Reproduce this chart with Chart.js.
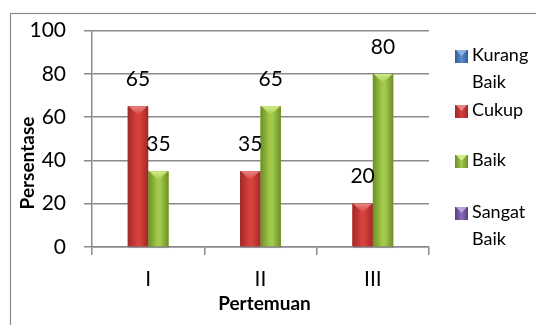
<!DOCTYPE html>
<html>
<head>
<meta charset="utf-8">
<script src="https://cdn.jsdelivr.net/npm/chart.js@4/dist/chart.umd.min.js"></script>
<style>
  html, body { margin: 0; padding: 0; background: #fff; }
  #wrap { width: 536px; height: 325px; position: relative; }
</style>
</head>
<body>
<div id="wrap"><canvas id="c" width="536" height="325"></canvas></div>
<script>
// Meetings on the x axis
const categories = ['I', 'II', 'III'];
// Series names (legend order)
const seriesNames = ['Kurang Baik', 'Cukup', 'Baik', 'Sangat Baik'];
// Percentages per meeting
const kurangBaik = [null, null, null];
const cukup = [65, 35, 20];
const baik = [35, 65, 80];
const sangatBaik = [null, null, null];
// Y axis tick values
const yTicks = [0, 20, 40, 60, 80, 100];
const xTitle = 'Pertemuan';
const yTitle = 'Persentase';

// Shading for each series: edge, middle, light cap
const shades = [
  { edge: '#2f5d93', mid: '#5b8fd0', cap: '#8fb4e3' },
  { edge: '#a02826', mid: '#d6413d', cap: '#ea8380' },
  { edge: '#6c8e26', mid: '#a3c94a', cap: '#d2ea8a' },
  { edge: '#56407a', mid: '#8a6bbf', cap: '#b9a3dc' }
];

const FONT = 'Lato, "Open Sans", sans-serif';
const GRID = '#8a8a8a';

const seriesValues = [kurangBaik, cukup, baik, sangatBaik];

const framePlugin = {
  id: 'frame',
  beforeDraw(chart) {
    const ctx = chart.ctx;
    ctx.save();
    ctx.fillStyle = '#ffffff';
    ctx.fillRect(0, 0, chart.width, chart.height);
    ctx.strokeStyle = '#8a8a8a';
    ctx.lineWidth = 1.2;
    ctx.strokeRect(10.5, 13.5, chart.width + 20, chart.height + 20);
    ctx.restore();
  }
};

// Cylinder-like shading with a bevelled top on each bar
const barShadePlugin = {
  id: 'barShade',
  afterDatasetsDraw(chart) {
    const ctx = chart.ctx;
    ctx.save();
    chart.data.datasets.forEach((ds, di) => {
      const meta = chart.getDatasetMeta(di);
      const sh = shades[di];
      meta.data.forEach((el, i) => {
        if (ds.data[i] == null) return;
        const p = el.getProps(['x', 'y', 'base', 'width'], true);
        const l = p.x - p.width / 2, r = p.x + p.width / 2;
        const top = p.y, bot = p.base;
        // soft shadow under the bar
        ctx.fillStyle = 'rgba(0,0,0,0.12)';
        ctx.fillRect(l + 1, bot, p.width, 2);
        const g = ctx.createLinearGradient(l, 0, r, 0);
        g.addColorStop(0, sh.edge);
        g.addColorStop(0.45, sh.mid);
        g.addColorStop(0.6, sh.mid);
        g.addColorStop(1, sh.edge);
        ctx.fillStyle = g;
        ctx.fillRect(l, top, p.width, bot - top);
        // bevelled top
        const capH = Math.min(9, (bot - top) / 2);
        const gc = ctx.createLinearGradient(0, top, 0, top + capH);
        gc.addColorStop(0, sh.cap);
        gc.addColorStop(1, sh.mid);
        ctx.fillStyle = gc;
        ctx.beginPath();
        ctx.moveTo(l + 1, top);
        ctx.lineTo(r - 1, top);
        ctx.lineTo(p.x, top + capH);
        ctx.closePath();
        ctx.fill();
      });
    });
    ctx.restore();
  }
};

// Value labels above the bars
const valueLabelPlugin = {
  id: 'valueLabels',
  afterDatasetsDraw(chart) {
    const ctx = chart.ctx;
    ctx.save();
    ctx.font = '21px ' + FONT;
    ctx.fillStyle = '#000';
    ctx.textAlign = 'center';
    ctx.textBaseline = 'middle';
    chart.data.datasets.forEach((ds, di) => {
      const meta = chart.getDatasetMeta(di);
      meta.data.forEach((el, i) => {
        const v = ds.data[i];
        if (v == null) return;
        const p = el.getProps(['x', 'y'], true);
        ctx.fillText(String(v), p.x, p.y - 27);
      });
    });
    ctx.restore();
  }
};

// Legend on the right, names wrapped onto two lines where needed
const legendPlugin = {
  id: 'sideLegend',
  afterDraw(chart) {
    const ctx = chart.ctx;
    const area = chart.chartArea;
    const boxX = area.right + 26;
    const textX = boxX + 17;
    const itemTops = [55, 110, 160, 212];
    const lineH = 27;
    ctx.save();
    ctx.font = '18px ' + FONT;
    ctx.textAlign = 'left';
    ctx.textBaseline = 'middle';
    seriesNames.forEach((name, i) => {
      const lines = name.split(' ');
      const y0 = itemTops[i];
      const sh = shades[i];
      const g = ctx.createLinearGradient(boxX, 0, boxX + 13, 0);
      g.addColorStop(0, sh.edge);
      g.addColorStop(0.5, sh.mid);
      g.addColorStop(1, sh.edge);
      ctx.fillStyle = g;
      ctx.fillRect(boxX, y0 - 5, 13, 13);
      ctx.fillStyle = sh.cap;
      ctx.beginPath();
      ctx.moveTo(boxX + 1, y0 - 5);
      ctx.lineTo(boxX + 12, y0 - 5);
      ctx.lineTo(boxX + 6.5, y0 + 1);
      ctx.closePath();
      ctx.fill();
      ctx.fillStyle = '#000';
      lines.forEach((t, k) => ctx.fillText(t, textX, y0 + k * lineH));
    });
    ctx.restore();
  }
};

// Axis titles
const axisTitlePlugin = {
  id: 'axisTitles',
  afterDraw(chart) {
    const ctx = chart.ctx;
    const area = chart.chartArea;
    ctx.save();
    ctx.font = 'bold 19px ' + FONT;
    ctx.fillStyle = '#000';
    ctx.textAlign = 'center';
    ctx.textBaseline = 'middle';
    ctx.fillText(xTitle, (area.left + area.right) / 2 + 4, 304);
    ctx.translate(28, 163);
    ctx.rotate(-Math.PI / 2);
    ctx.fillText(yTitle, 0, 0);
    ctx.restore();
  }
};

new Chart(document.getElementById('c'), {
  type: 'bar',
  data: {
    labels: categories,
    datasets: seriesNames.map((name, i) => ({
      label: name,
      data: seriesValues[i],
      backgroundColor: shades[i].mid,
      borderWidth: 0,
      categoryPercentage: 4 / 5.5,
      barPercentage: 1
    }))
  },
  options: {
    responsive: false,
    animation: false,
    devicePixelRatio: 1,
    layout: { padding: { top: 29, right: 107, left: 0, bottom: 0 } },
    plugins: {
      legend: { display: false },
      title: { display: false },
      tooltip: { enabled: false }
    },
    scales: {
      x: {
        offset: true,
        grid: { offset: true, drawOnChartArea: false, color: GRID, lineWidth: 1.5, tickLength: 8 },
        border: { color: GRID, width: 1.5 },
        ticks: { font: { family: FONT, size: 21 }, color: '#000', padding: 12 },
        afterFit(scale) { scale.height = 78; }
      },
      y: {
        min: 0,
        max: 100,
        grid: { color: GRID, lineWidth: 1.5, tickLength: 8 },
        border: { color: GRID, width: 1.5 },
        ticks: { font: { family: FONT, size: 21 }, color: '#000', padding: 18 },
        afterBuildTicks(scale) { scale.ticks = yTicks.map(v => ({ value: v })); },
        afterFit(scale) { scale.width = 92; }
      }
    }
  },
  plugins: [framePlugin, barShadePlugin, valueLabelPlugin, legendPlugin, axisTitlePlugin]
});
</script>
</body>
</html>
